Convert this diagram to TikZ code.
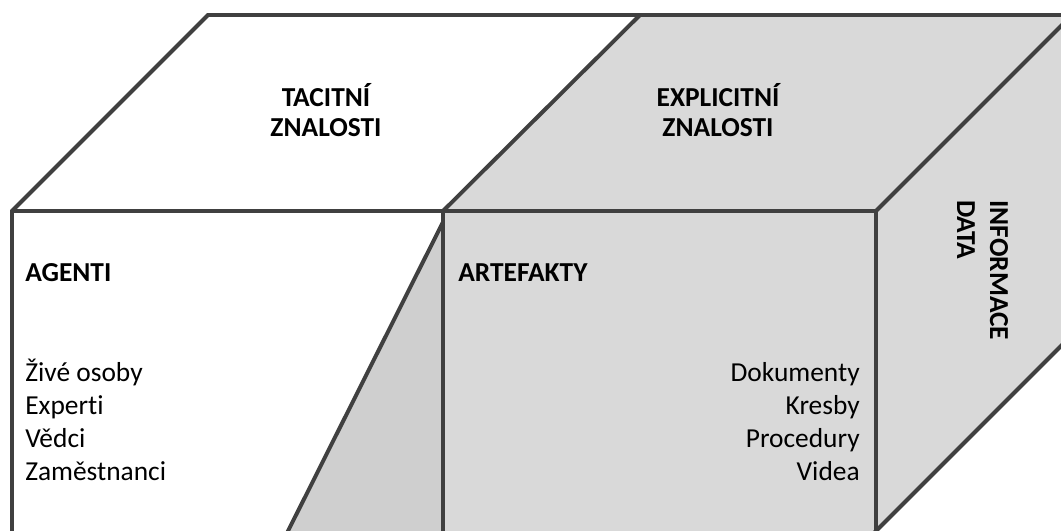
\documentclass[tikz,border=0pt]{standalone}
\usepackage{fontspec}
\setmainfont{Carlito}[Ligatures=NoCommon]
\usepackage{xcolor}
\definecolor{edgegray}{HTML}{404040}
\definecolor{facegray}{HTML}{D9D9D9}
\definecolor{shadegray}{HTML}{CFCFCF}
\tikzset{
  edge/.style={line width=2.8pt,edgegray,line join=miter},
  head/.style={font=\fontsize{19.5}{22}\selectfont\bfseries,inner sep=0pt},
  item/.style={font=\fontsize{19.5}{23}\selectfont,inner sep=0pt}
}

\begin{document}
\begin{tikzpicture}[x=0.025cm,y=-0.025cm]
  \useasboundingbox (0,0) rectangle (1061,531);
  \clip (0,0) rectangle (1061,531);
  % grey faces
  \fill[facegray] (443,211)--(640,15)--(1072,15)--(876,211)--cycle;
  \fill[facegray] (876,211)--(1072,15)--(1072,335)--(866,541)--(876,545)--cycle;
  \fill[facegray] (443,211) rectangle (876,545);
  \fill[shadegray] (443,222)--(281,545)--(443,545)--cycle;
  % edges
  \draw[edge] (12,545)--(12,211)--(208,15)--(1075,15);
  \draw[edge] (12,211)--(876,211)--(1072,15);
  \draw[edge] (443,545)--(443,211)--(640,15);
  \draw[edge] (876,545)--(876,211);
  \draw[edge] (866,541)--(1072,335);
  \draw[edge] (443,222)--(281,545);
  % labels
  \node[head,anchor=base] (tacit1) at (326,107) {TACITNÍ};
  \node[head,anchor=base] (tacit2) at (326,137) {ZNALOSTI};
  \node[head,anchor=base] (expl1) at (718,107) {EXPLICITNÍ};
  \node[head,anchor=base] (expl2) at (718,137) {ZNALOSTI};
  \node[head,anchor=base west] (agenti) at (25,282) {AGENTI};
  \node[head,anchor=base west] (artef) at (458,282) {ARTEFAKTY};
  \node[head,anchor=base west,rotate=-90] (inform) at (990,200) {INFORMACE};
  \node[head,anchor=base west,rotate=-90] (data) at (957,200) {DATA};
  \foreach \t [count=\i from 0] in {Živé osoby,Experti,Vědci,Zaměstnanci}
    \node[item,anchor=base west] (ag\i) at (25,382+32.7*\i) {\t};
  \foreach \t [count=\i from 0] in {Dokumenty,Kresby,Procedury,Videa}
    \node[item,anchor=base east] (ar\i) at (860,382+32.7*\i) {\t};
\end{tikzpicture}
\end{document}
